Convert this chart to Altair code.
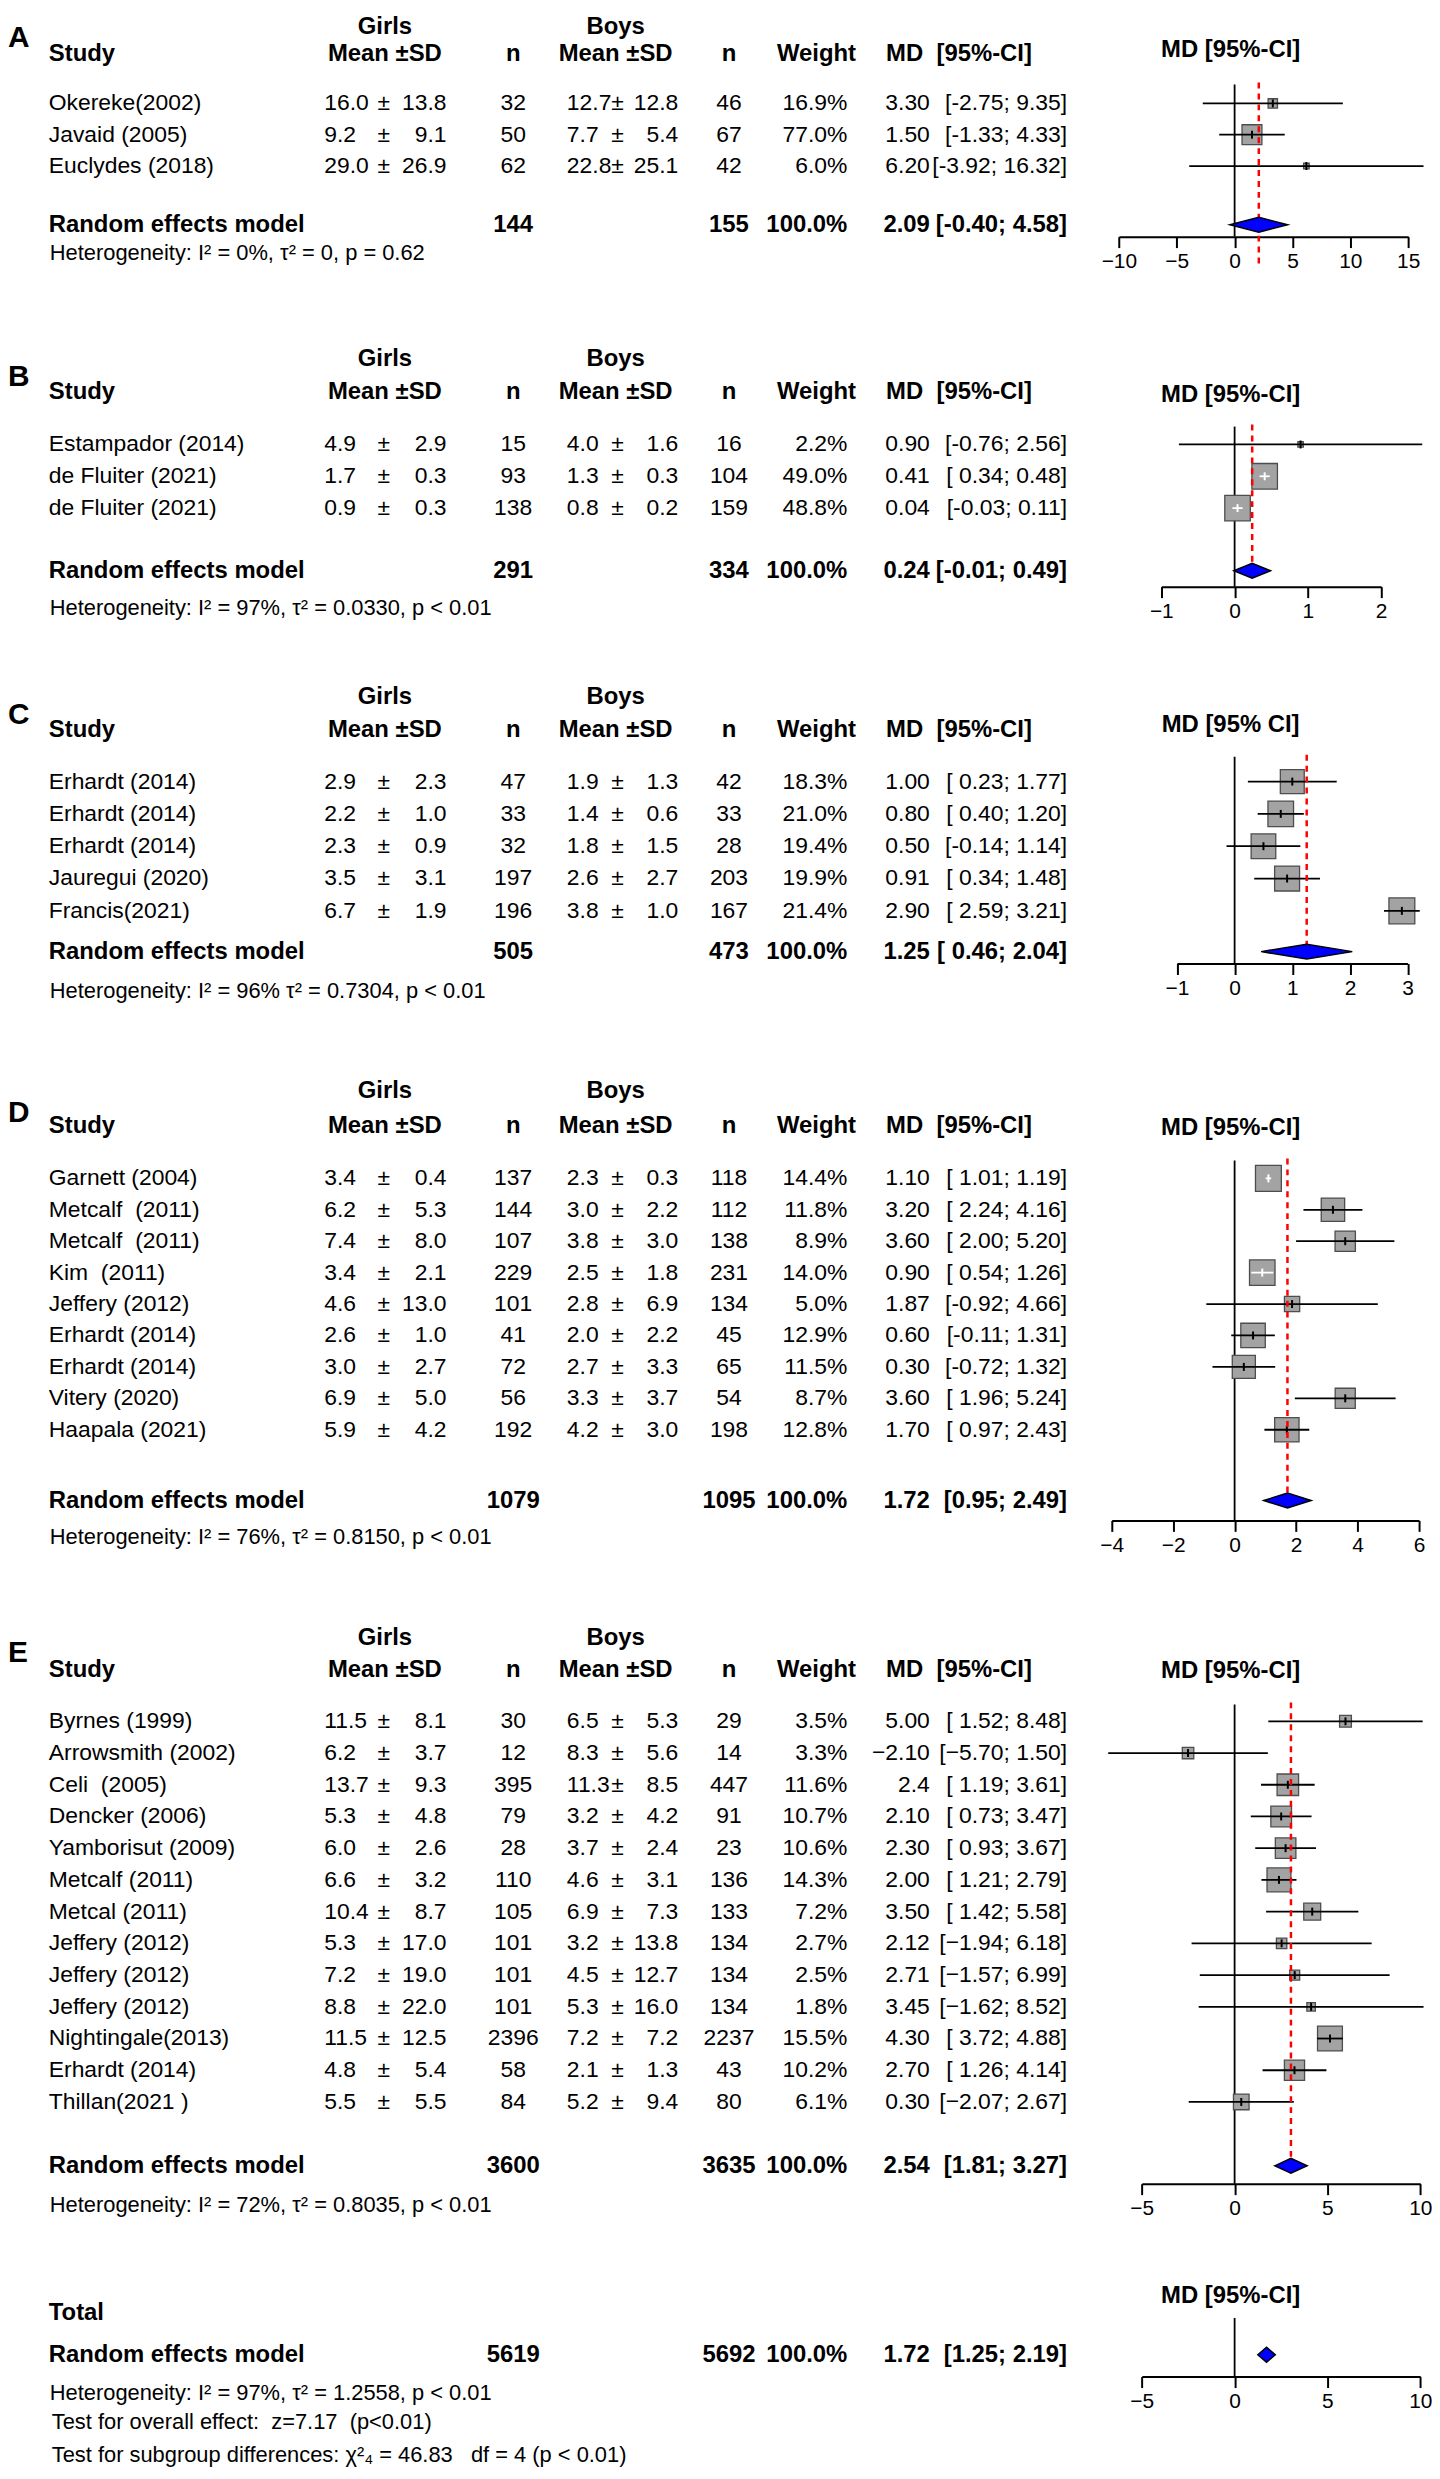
import math
import altair as alt
import pandas as pd

FONT = "Liberation Sans, Arial, Helvetica, sans-serif"
NB = "\u00a0"

# ---------------- data ----------------
A_study = ["Okereke(2002)", "Javaid (2005)", "Euclydes (2018)"]
A_g_mean = ["16.0", "9.2", "29.0"]
A_g_sd = ["13.8", "9.1", "26.9"]
A_g_n = ["32", "50", "62"]
A_b_mean = ["12.7", "7.7", "22.8"]
A_b_sd = ["12.8", "5.4", "25.1"]
A_b_n = ["46", "67", "42"]
A_weight = [16.9, 77.0, 6.0]
A_md = ["3.30", "1.50", "6.20"]
A_lo = [-2.75, -1.33, -3.92]
A_hi = [9.35, 4.33, 16.32]
A_pool = ["144", "155", "2.09", -0.40, 4.58]
A_het = "Heterogeneity: I² = 0%, τ² = 0, p = 0.62"

B_study = ["Estampador (2014)", "de Fluiter (2021)", "de Fluiter (2021)"]
B_g_mean = ["4.9", "1.7", "0.9"]
B_g_sd = ["2.9", "0.3", "0.3"]
B_g_n = ["15", "93", "138"]
B_b_mean = ["4.0", "1.3", "0.8"]
B_b_sd = ["1.6", "0.3", "0.2"]
B_b_n = ["16", "104", "159"]
B_weight = [2.2, 49.0, 48.8]
B_md = ["0.90", "0.41", "0.04"]
B_lo = [-0.76, 0.34, -0.03]
B_hi = [2.56, 0.48, 0.11]
B_pool = ["291", "334", "0.24", -0.01, 0.49]
B_het = "Heterogeneity: I² = 97%, τ² = 0.0330, p < 0.01"

C_study = ["Erhardt (2014)", "Erhardt (2014)", "Erhardt (2014)", "Jauregui (2020)", "Francis(2021)"]
C_g_mean = ["2.9", "2.2", "2.3", "3.5", "6.7"]
C_g_sd = ["2.3", "1.0", "0.9", "3.1", "1.9"]
C_g_n = ["47", "33", "32", "197", "196"]
C_b_mean = ["1.9", "1.4", "1.8", "2.6", "3.8"]
C_b_sd = ["1.3", "0.6", "1.5", "2.7", "1.0"]
C_b_n = ["42", "33", "28", "203", "167"]
C_weight = [18.3, 21.0, 19.4, 19.9, 21.4]
C_md = ["1.00", "0.80", "0.50", "0.91", "2.90"]
C_lo = [0.23, 0.40, -0.14, 0.34, 2.59]
C_hi = [1.77, 1.20, 1.14, 1.48, 3.21]
C_pool = ["505", "473", "1.25", 0.46, 2.04]
C_het = "Heterogeneity: I² = 96% τ² = 0.7304, p < 0.01"

D_study = ["Garnett (2004)", "Metcalf" + NB + " (2011)", "Metcalf" + NB + " (2011)", "Kim" + NB + " (2011)",
           "Jeffery (2012)", "Erhardt (2014)", "Erhardt (2014)", "Vitery (2020)", "Haapala (2021)"]
D_g_mean = ["3.4", "6.2", "7.4", "3.4", "4.6", "2.6", "3.0", "6.9", "5.9"]
D_g_sd = ["0.4", "5.3", "8.0", "2.1", "13.0", "1.0", "2.7", "5.0", "4.2"]
D_g_n = ["137", "144", "107", "229", "101", "41", "72", "56", "192"]
D_b_mean = ["2.3", "3.0", "3.8", "2.5", "2.8", "2.0", "2.7", "3.3", "4.2"]
D_b_sd = ["0.3", "2.2", "3.0", "1.8", "6.9", "2.2", "3.3", "3.7", "3.0"]
D_b_n = ["118", "112", "138", "231", "134", "45", "65", "54", "198"]
D_weight = [14.4, 11.8, 8.9, 14.0, 5.0, 12.9, 11.5, 8.7, 12.8]
D_md = ["1.10", "3.20", "3.60", "0.90", "1.87", "0.60", "0.30", "3.60", "1.70"]
D_lo = [1.01, 2.24, 2.00, 0.54, -0.92, -0.11, -0.72, 1.96, 0.97]
D_hi = [1.19, 4.16, 5.20, 1.26, 4.66, 1.31, 1.32, 5.24, 2.43]
D_pool = ["1079", "1095", "1.72", 0.95, 2.49]
D_het = "Heterogeneity: I² = 76%, τ² = 0.8150, p < 0.01"

E_study = ["Byrnes (1999)", "Arrowsmith (2002)", "Celi" + NB + " (2005)", "Dencker (2006)", "Yamborisut (2009)",
           "Metcalf (2011)", "Metcal (2011)", "Jeffery (2012)", "Jeffery (2012)", "Jeffery (2012)",
           "Nightingale(2013)", "Erhardt (2014)", "Thillan(2021 )"]
E_g_mean = ["11.5", "6.2", "13.7", "5.3", "6.0", "6.6", "10.4", "5.3", "7.2", "8.8", "11.5", "4.8", "5.5"]
E_g_sd = ["8.1", "3.7", "9.3", "4.8", "2.6", "3.2", "8.7", "17.0", "19.0", "22.0", "12.5", "5.4", "5.5"]
E_g_n = ["30", "12", "395", "79", "28", "110", "105", "101", "101", "101", "2396", "58", "84"]
E_b_mean = ["6.5", "8.3", "11.3", "3.2", "3.7", "4.6", "6.9", "3.2", "4.5", "5.3", "7.2", "2.1", "5.2"]
E_b_sd = ["5.3", "5.6", "8.5", "4.2", "2.4", "3.1", "7.3", "13.8", "12.7", "16.0", "7.2", "1.3", "9.4"]
E_b_n = ["29", "14", "447", "91", "23", "136", "133", "134", "134", "134", "2237", "43", "80"]
E_weight = [3.5, 3.3, 11.6, 10.7, 10.6, 14.3, 7.2, 2.7, 2.5, 1.8, 15.5, 10.2, 6.1]
E_md = ["5.00", "−2.10", "2.4", "2.10", "2.30", "2.00", "3.50", "2.12", "2.71", "3.45", "4.30", "2.70", "0.30"]
E_lo = [1.52, -5.70, 1.19, 0.73, 0.93, 1.21, 1.42, -1.94, -1.57, -1.62, 3.72, 1.26, -2.07]
E_hi = [8.48, 1.50, 3.61, 3.47, 3.67, 2.79, 5.58, 6.18, 6.99, 8.52, 4.88, 4.14, 2.67]
E_pool = ["3600", "3635", "2.54", 1.81, 3.27]
E_het = "Heterogeneity: I² = 72%, τ² = 0.8035, p < 0.01"

T_pool = ["5619", "5692", "1.72", 1.25, 2.19]
T_het = "Heterogeneity: I² = 97%, τ² = 1.2558, p < 0.01"
T_test1 = "Test for overall effect:" + NB + " z=7.17" + NB + " (p<0.01)"
T_test2 = "Test for subgroup differences: χ²₄ = 46.83" + NB + NB + " df = 4 (p < 0.01)"

# ---------------- layout (page pixels) ----------------
LAYOUT = {
    "A": dict(top=8, H=292, letter=29, girls=18, head=45, first=95, step=31.5, rem=217, het=245,
              axis=229, line_top=76, red_bottom=258, fhead=41),
    "B": dict(top=300, H=350, letter=370, girls=352, head=385, first=438, step=32, rem=565, het=602,
              axis=581, line_top=420, red_bottom=565, fhead=388),
    "C": dict(top=650, H=390, letter=710, girls=692, head=725, first=777, step=32.5, rem=948, het=988,
              axis=960, line_top=752, red_bottom=948, fhead=720),
    "D": dict(top=1040, H=550, letter=1110, girls=1088, head=1123, first=1176, step=31.6, rem=1500, het=1537,
              axis=1520, line_top=1158, red_bottom=1500, fhead=1125),
    "E": dict(top=1590, H=670, letter=1653, girls=1638, head=1670, first=1722, step=31.9, rem=2169, het=2208,
              axis=2187, line_top=1705, red_bottom=2169, fhead=1671),
    "T": dict(top=2260, H=212, total=2317, rem=2359, het=2398, test1=2427, test2=2460,
              axis=2381, line_top=2322, fhead=2300),
}
# data scale (dom, ppu) and axis scale (adom, appu); they coincide except in panel E
FOREST = {
    "A": dict(dom=[-10, 15], ppu=11.64, adom=[-10, 15], appu=11.64, ticks=[-10, -5, 0, 5, 10, 15], smax=20),
    "B": dict(dom=[-1, 2], ppu=73.7, adom=[-1, 2], appu=73.7, ticks=[-1, 0, 1, 2], smax=25.7),
    "C": dict(dom=[-1, 3], ppu=58.0, adom=[-1, 3], appu=58.0, ticks=[-1, 0, 1, 2, 3], smax=26),
    "D": dict(dom=[-4, 6], ppu=30.9, adom=[-4, 6], appu=30.9, ticks=[-4, -2, 0, 2, 4, 6], smax=26),
    "E": dict(dom=[-5, 8.6], ppu=22.3, adom=[-5, 10], appu=18.67, ticks=[-5, 0, 5, 10], smax=25),
    "T": dict(dom=[-5, 10], ppu=18.67, adom=[-5, 10], appu=18.67, ticks=[-5, 0, 5, 10], smax=25),
}
ZERO_X = 1241.5   # page x of MD = 0
CHART_W = 1424
COL = dict(letter=0, study=41, g_mean=318, g_pm=378, g_sd=441, g_n=508, b_mean=562, b_pm=613,
           b_sd=674, b_n=725, w=844, md=927, ci=1065, g_head=379, b_head=611, w_head=813, md_head=883)


def fmt(v, minus="-"):
    return f"{v:.2f}".replace("-", minus)


def ci_text(lo, hi, minus="-", pad=True):
    s = fmt(lo, minus)
    if lo >= 0 and pad:
        s = NB + s
    return f"[{s}; {fmt(hi, minus)}]"


def text_layers(items, yscale):
    groups = {}
    for it in items:
        key = (it["x"], it["align"], it["weight"], it["size"])
        groups.setdefault(key, []).append({"y": it["y"], "t": it["t"]})
    layers = []
    for (x, align, weight, size), rows in groups.items():
        layers.append(
            alt.Chart(pd.DataFrame(rows)).mark_text(
                align=align, baseline="middle", font=FONT, fontSize=size,
                fontWeight=weight, color="black"
            ).encode(x=alt.value(x), y=alt.Y("y:Q", scale=yscale, axis=None), text="t:N")
        )
    return layers


def table_layers(key, d, ys):
    L = LAYOUT[key]
    top = L["top"]
    items = []

    def add(x, y, t, align="left", bold=False, size=23):
        items.append(dict(x=x, y=y - top, t=str(t), align=align,
                          weight="bold" if bold else "normal", size=size))

    if key != "T":
        add(COL["letter"], L["letter"], key, "left", True, 30)
        add(COL["g_head"], L["girls"], "Girls", "center", True, 24)
        add(COL["b_head"], L["girls"], "Boys", "center", True, 24)
        add(COL["study"], L["head"], "Study", "left", True, 24)
        add(COL["g_head"], L["head"], "Mean ±SD", "center", True, 24)
        add(COL["g_n"], L["head"], "n", "center", True, 24)
        add(COL["b_head"], L["head"], "Mean ±SD", "center", True, 24)
        add(COL["b_n"], L["head"], "n", "center", True, 24)
        add(COL["w_head"], L["head"], "Weight", "center", True, 24)
        add(COL["md_head"], L["head"], "MD" + NB + " [95%-CI]", "left", True, 24)
        minus = d.get("minus", "-")
        for i, s in enumerate(d["study"]):
            y = L["first"] + i * L["step"]
            add(COL["study"], y, s)
            add(COL["g_mean"], y, d["g_mean"][i])
            add(COL["g_pm"], y, "±", "center")
            add(COL["g_sd"], y, d["g_sd"][i], "right")
            add(COL["g_n"], y, d["g_n"][i], "center")
            add(COL["b_mean"], y, d["b_mean"][i])
            add(COL["b_pm"], y, "±", "center")
            add(COL["b_sd"], y, d["b_sd"][i], "right")
            add(COL["b_n"], y, d["b_n"][i], "center")
            add(COL["w"], y, f"{d['weight'][i]:.1f}%", "right")
            add(COL["md"], y, d["md"][i], "right")
            add(COL["ci"], y, ci_text(d["lo"][i], d["hi"][i], minus), "right")
    else:
        add(COL["study"], L["total"], "Total", "left", True, 24)

    p = d["pool"]
    y = L["rem"]
    add(COL["study"], y, "Random effects model", "left", True, 24)
    add(COL["g_n"], y, p[0], "center", True, 24)
    add(COL["b_n"], y, p[1], "center", True, 24)
    add(COL["w"], y, "100.0%", "right", True, 24)
    add(COL["md"], y, p[2], "right", True, 24)
    add(COL["ci"], y, ci_text(p[3], p[4], "-", d.get("pool_pad", False)), "right", True, 24)
    add(COL["study"] + 1, L["het"], d["het"], "left", False, 22)
    if key == "T":
        add(COL["study"] + 3, L["test1"], T_test1, "left", False, 22)
        add(COL["study"] + 3, L["test2"], T_test2, "left", False, 22)
    return text_layers(items, ys)


def forest_layers(key, d, ys):
    L = LAYOUT[key]
    F = FOREST[key]
    top = L["top"]
    H = L["H"]
    Hf = L["axis"] - top
    xs = alt.Scale(domain=F["dom"],
                   range=[ZERO_X - 8 + F["dom"][0] * F["ppu"], ZERO_X - 8 + F["dom"][1] * F["ppu"]],
                   nice=False, zero=False)
    axs = alt.Scale(domain=F["adom"],
                    range=[ZERO_X - 8 + F["adom"][0] * F["appu"], ZERO_X - 8 + F["adom"][1] * F["appu"]],
                    nice=False, zero=False)
    ax = alt.Axis(values=F["ticks"], format="d", title=None, grid=False, orient="bottom",
                  offset=Hf - H,
                  domainColor="black", domainWidth=2, tickColor="black", tickWidth=2, tickSize=11,
                  labelFont=FONT, labelFontSize=21, labelColor="black", labelPadding=3,
                  labelFlush=False, labelOverlap=False)

    def X(f="x"):
        return alt.X(f"{f}:Q", scale=xs, axis=None)

    def Y(f="y"):
        return alt.Y(f"{f}:Q", scale=ys, axis=None)

    layers = []
    zero = pd.DataFrame({"x": [0], "y": [L["line_top"] - top], "y2": [Hf]})
    layers.append(alt.Chart(zero).mark_rule(color="black", strokeWidth=1.8).encode(
        x=alt.X("x:Q", scale=axs, axis=ax), y=Y(), y2=alt.Y2("y2:Q")))

    p = d["pool"]
    pool_md = float(str(p[2]).replace("−", "-"))

    if key != "T":
        wmax = max(d["weight"])
        rows = []
        for i in range(len(d["md"])):
            md = float(d["md"][i].replace("−", "-"))
            lo, hi, w = d["lo"][i], d["hi"][i], d["weight"][i]
            y = L["first"] + i * L["step"] - top
            half = F["smax"] * math.sqrt(w / wmax) / 2 / F["ppu"]
            inside = (md - lo) <= half and (hi - md) <= half
            rows.append(dict(x=md, lo=lo, hi=hi, w=w, y=y, yt=y - 4, yb=y + 4,
                             c="white" if inside else "black"))
        sdf = pd.DataFrame(rows)
        layers.append(alt.Chart(sdf).mark_square(filled=True, fill="#a3a3a3", stroke="#4d4d4d",
                                                 strokeWidth=1.3, opacity=1).encode(
            x=X(), y=Y(),
            size=alt.Size("w:Q", scale=alt.Scale(domain=[0, wmax], range=[0, F["smax"] ** 2]),
                          legend=None)))
        layers.append(alt.Chart(sdf).mark_rule(strokeWidth=1.8).encode(
            x=X("lo"), x2=alt.X2("hi:Q"), y=Y(), color=alt.Color("c:N", scale=None)))
        layers.append(alt.Chart(sdf).mark_rule(strokeWidth=2).encode(
            x=X(), y=Y("yt"), y2=alt.Y2("yb:Q"), color=alt.Color("c:N", scale=None)))
        red = pd.DataFrame({"x": [pool_md], "y": [L["line_top"] - top - 2], "y2": [L["red_bottom"] - top]})
        layers.append(alt.Chart(red).mark_rule(color="#ff0000", strokeWidth=2.5, strokeDash=[6, 5]).encode(
            x=X(), y=Y(), y2=alt.Y2("y2:Q")))

    c = L["rem"] - top
    dia = pd.DataFrame({"x": [p[3], pool_md, p[4]], "y": [c, c - 7.5, c], "y2": [c, c + 7.5, c]})
    layers.append(alt.Chart(dia).mark_area(orient="vertical", fill="#0000ff", stroke="black",
                                           strokeWidth=1.5, opacity=1).encode(
        x=X(), y=Y(), y2=alt.Y2("y2:Q")))

    hdr = pd.DataFrame({"x": [0], "y": [L["fhead"] - top], "t": [d.get("fheader", "MD [95%-CI]")]})
    layers.append(alt.Chart(hdr).mark_text(align="center", baseline="middle", font=FONT, fontSize=24,
                                           fontWeight="bold", color="black", dx=-4).encode(
        x=X(), y=Y(), text="t:N"))
    return layers


PANEL_DATA = {
    "A": dict(study=A_study, g_mean=A_g_mean, g_sd=A_g_sd, g_n=A_g_n, b_mean=A_b_mean, b_sd=A_b_sd,
              b_n=A_b_n, weight=A_weight, md=A_md, lo=A_lo, hi=A_hi, pool=A_pool, het=A_het),
    "B": dict(study=B_study, g_mean=B_g_mean, g_sd=B_g_sd, g_n=B_g_n, b_mean=B_b_mean, b_sd=B_b_sd,
              b_n=B_b_n, weight=B_weight, md=B_md, lo=B_lo, hi=B_hi, pool=B_pool, het=B_het),
    "C": dict(study=C_study, g_mean=C_g_mean, g_sd=C_g_sd, g_n=C_g_n, b_mean=C_b_mean, b_sd=C_b_sd,
              b_n=C_b_n, weight=C_weight, md=C_md, lo=C_lo, hi=C_hi, pool=C_pool, het=C_het,
              pool_pad=True, fheader="MD [95% CI]"),
    "D": dict(study=D_study, g_mean=D_g_mean, g_sd=D_g_sd, g_n=D_g_n, b_mean=D_b_mean, b_sd=D_b_sd,
              b_n=D_b_n, weight=D_weight, md=D_md, lo=D_lo, hi=D_hi, pool=D_pool, het=D_het),
    "E": dict(study=E_study, g_mean=E_g_mean, g_sd=E_g_sd, g_n=E_g_n, b_mean=E_b_mean, b_sd=E_b_sd,
              b_n=E_b_n, weight=E_weight, md=E_md, lo=E_lo, hi=E_hi, pool=E_pool, het=E_het, minus="−"),
    "T": dict(pool=T_pool, het=T_het),
}

panels = []
for key in ["A", "B", "C", "D", "E", "T"]:
    H = LAYOUT[key]["H"]
    ys = alt.Scale(domain=[0, H], nice=False, zero=False, reverse=True)
    layers = table_layers(key, PANEL_DATA[key], ys) + forest_layers(key, PANEL_DATA[key], ys)
    panels.append(alt.layer(*layers).resolve_scale(x="independent")
                  .properties(width=CHART_W, height=H))

chart = alt.vconcat(*panels, spacing=0, bounds="flush").resolve_scale(
    size="independent", x="independent", y="independent"
).properties(padding=0, background="white").configure_view(stroke=None)

chart.save("out.html", embed_options={"renderer": "svg", "actions": False})
